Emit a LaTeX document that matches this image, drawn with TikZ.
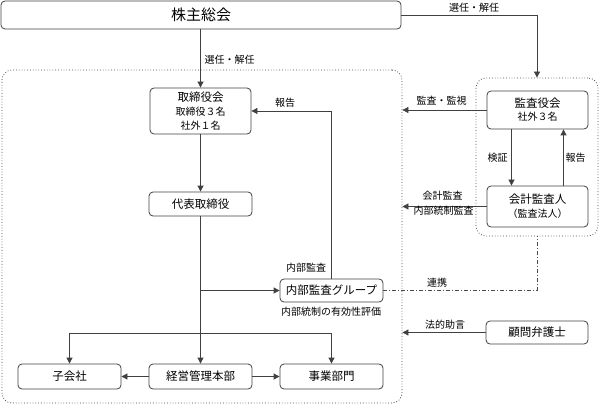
\documentclass[tikz,border=0pt]{standalone}
\usepackage{fontspec}
\setmainfont{Noto Sans CJK JP}
\usetikzlibrary{arrows.meta}
\begin{document}
\begin{tikzpicture}[x=1pt,y=-1pt,
  box/.style={draw=black!75, line width=0.8pt, rounded corners=4pt, minimum width=103pt, minimum height=24pt, inner sep=0pt, align=center, font=\fontsize{11.5}{15}\selectfont},
  sub/.style={font=\fontsize{10}{14}\selectfont},
  lab/.style={font=\fontsize{10}{12}\selectfont, inner sep=1pt, align=center},
  conn/.style={draw=black!75, line width=0.8pt, -{Triangle[length=6pt,width=6pt]}},
  grp/.style={draw=black!70, dotted, line width=0.8pt, rounded corners=10pt, inner sep=0pt}]
\useasboundingbox (0,0) rectangle (599,406);
% groups
\node[grp, minimum width=400pt, minimum height=333pt] (board) at (202,236.5) {};
\node[grp, minimum width=122pt, minimum height=158pt] (audit) at (537,157) {};
% nodes
\node[box, minimum width=400pt, minimum height=28pt, font=\fontsize{15}{17}\selectfont] (share) at (201,15) {株主総会};
\node[box, minimum width=101pt, minimum height=46pt] (tori) at (200.5,111) {取締役会\\[-1pt]{\fontsize{10}{14}\selectfont 取締役３名}\\[-1pt]{\fontsize{10}{14}\selectfont 社外１名}};
\node[box] (daihyo) at (200.5,204) {代表取締役};
\node[box, minimum height=25pt] (keiei) at (200.5,376.5) {経営管理本部};
\node[box, minimum height=25pt] (ko) at (69.5,376.5) {子会社};
\node[box, minimum height=25pt] (jigyo) at (331.5,376.5) {事業部門};
\node[box, minimum height=23pt] (naibu) at (331.5,290.5) {内部監査グループ};
\node[box, minimum width=101pt, minimum height=38pt] (kansa) at (537.5,110) {監査役会\\[-2pt]{\fontsize{10}{14}\selectfont 社外３名}};
\node[box, minimum width=101pt, minimum height=41pt] (kaikei) at (537.5,206.5) {会計監査人\\[-1pt]{\fontsize{10}{14}\selectfont （監査法人）}};
\node[box, minimum width=102pt, minimum height=23pt] (komon) at (537,332.5) {顧問弁護士};
\coordinate (j1) at (200.5,290.5);
\coordinate (j2) at (200.5,333);
% connectors
\draw[conn] (share.south -| tori.north) -- (tori.north);
\draw[conn] (share.east) -| (audit.north);
\draw[conn] (tori) -- (daihyo);
\draw[conn] (daihyo) -- (keiei);
\draw[conn] (j1) -- (naibu.west);
\draw[conn] (naibu.north) |- (tori.east);
\draw[conn] (j2) -| (ko.north);
\draw[conn] (j2) -| (jigyo.north);
\draw[conn] (keiei) -- (ko);
\draw[conn] (keiei) -- (jigyo);
\draw[conn] (kansa.west) -- (kansa.west -| board.east);
\draw[conn] (kaikei.west) -- (kaikei.west -| board.east);
\draw[conn] ([xshift=-26pt]kansa.south) -- ([xshift=-26pt]kaikei.north);
\draw[conn] ([xshift=26pt]kaikei.north) -- ([xshift=26pt]kansa.south);
\draw[conn] (komon.west) -- (komon.west -| board.east);
\draw[draw=black!70, line width=0.8pt, dash pattern=on 4pt off 2pt on 1pt off 2pt] (naibu.east) -| (audit.south);
% labels
\node[lab] (l1) at (229.5,60) {選任・解任};
\node[lab] (l2) at (474,8) {選任・解任};
\node[lab] (l3) at (285,103) {報告};
\node[lab] (l4) at (441.5,101) {監査・監視};
\node[lab] (l5) at (442.5,196) {会計監査};
\node[lab] (l6) at (443.5,211) {内部統制監査};
\node[lab] (l7) at (497.5,158) {検証};
\node[lab] (l8) at (575.5,158) {報告};
\node[lab] (l9) at (306,268) {内部監査};
\node[lab] (l10) at (331,312) {内部統制の有効性評価};
\node[lab] (l11) at (437,283) {連携};
\node[lab] (l12) at (445,325) {法的助言};
\end{tikzpicture}
\end{document}
